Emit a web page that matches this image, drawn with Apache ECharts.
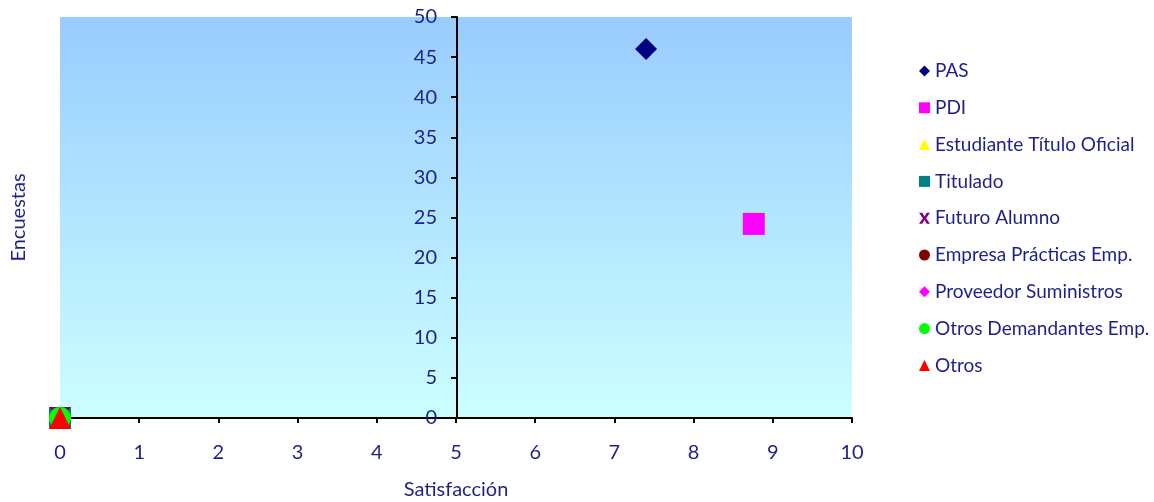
<!DOCTYPE html>
<html>
<head>
<meta charset="utf-8">
<script src="https://cdn.jsdelivr.net/npm/echarts@6/dist/echarts.min.js"></script>
<style>html,body{margin:0;padding:0;background:#fff}#c{width:1154px;height:502px}</style>
</head>
<body>
<div id="c"></div>
<script>
const seriesNames = ["PAS","PDI","Estudiante Título Oficial","Titulado","Futuro Alumno","Empresa Prácticas Emp.","Proveedor Suministros","Otros Demandantes Emp.","Otros"];
const satisfaccion = [7.4, 8.76, 0, 0, 0, 0, 0, 0, 0];
const encuestas = [46, 24.2, 0, 0, 0, 0, 0, 0, 0];
const colors = ["#000080","#FF00FF","#FFFF00","#008080","#800080","#800000","#FF00FF","#00FF00","#FF0000"];
const xPath = 'path://M0,0 L3,0 L5,3.5 L7,0 L10,0 L6.5,5 L10,10 L7,10 L5,6.5 L3,10 L0,10 L3.5,5 Z';
const symbols = ['diamond','rect','triangle','rect',xPath,'circle','diamond','circle','triangle'];
const symbolSizes = [22, 22, 22, 22, 22, 22, 22, 22, 22];
const xTicks = [0,1,2,3,4,5,6,7,8,9,10];
const yTicks = [0,5,10,15,20,25,30,35,40,45,50];

const textColor = '#1f1f8a';
const font = 'Lato';
const chart = echarts.init(document.getElementById('c'));
chart.setOption({
  animation: false,
  textStyle: {fontFamily: font},
  grid: {
    left: 60, right: 302, top: 17, bottom: 84,
    outerBoundsMode: 'none', containLabel: false,
    show: true, borderWidth: 0,
    backgroundColor: {type:'linear', x:0, y:0, x2:0, y2:1, colorStops:[{offset:0,color:'#99CCFF'},{offset:1,color:'#CCFFFF'}]}
  },
  xAxis: {
    type: 'value', min: 0, max: 10, interval: 1,
    name: 'Satisfacción', nameLocation: 'middle', nameGap: 62,
    nameTextStyle: {color: textColor, fontSize: 20, fontFamily: font},
    axisLine: {show: true, onZero: false, lineStyle: {color: '#000', width: 2}},
    axisTick: {show: true, length: 5, lineStyle: {color: '#000', width: 2}},
    axisLabel: {color: textColor, fontSize: 20, margin: 25, fontFamily: font},
    splitLine: {show: false}
  },
  yAxis: {
    type: 'value', min: 0, max: 50, interval: 5,
    offset: -397,
    name: 'Encuestas', nameLocation: 'middle', nameGap: 428, nameRotate: 90,
    nameTextStyle: {color: textColor, fontSize: 20, fontFamily: font},
    axisLine: {show: true, onZero: false, lineStyle: {color: '#000', width: 2}},
    axisTick: {show: true, length: 6, lineStyle: {color: '#000', width: 2}},
    axisLabel: {color: textColor, fontSize: 20, margin: 20, fontFamily: font},
    splitLine: {show: false}
  },
  legend: {
    orient: 'vertical', left: 914, top: 56,
    itemWidth: 11, itemHeight: 11, itemGap: 16.8,
    textStyle: {color: textColor, fontSize: 19, lineHeight: 20, fontFamily: font},
    data: seriesNames.map((n, i) => ({name: n, icon: symbols[i]}))
  },
  series: seriesNames.map((n, i) => ({
    name: n, type: 'scatter',
    symbol: symbols[i], symbolSize: symbolSizes[i],
    itemStyle: {color: colors[i], opacity: 1},
    data: [[satisfaccion[i], encuestas[i]]]
  }))
});
</script>
</body>
</html>
